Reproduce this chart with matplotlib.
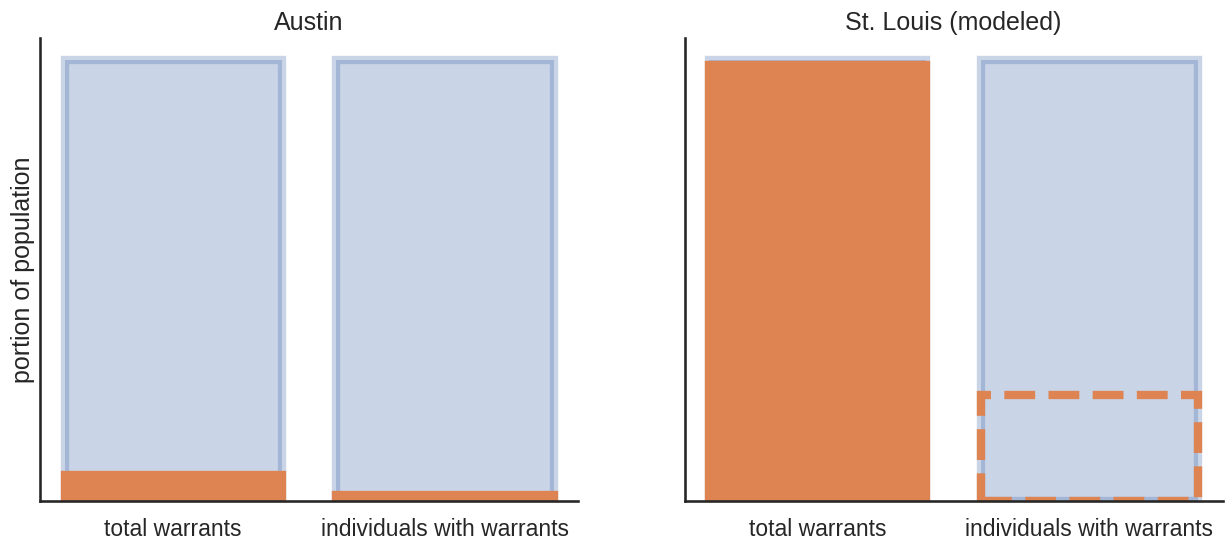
import matplotlib
matplotlib.use('Agg')
import matplotlib.pyplot as plt
import seaborn as sns

# 数据
categories = ['total warrants', 'individuals with warrants']
population = [1.0, 1.0]
austin_warrants = [0.059, 0.013]
stl_total_warrants = [0.988]
stl_individuals_modeled = [0.24]

sns.set_theme(context='talk', style='white')
plt.rcParams['font.family'] = ['Liberation Sans', 'DejaVu Sans']

blue = sns.color_palette('deep')[0]
orange = sns.color_palette('deep')[1]

fig, axes = plt.subplots(1, 2, figsize=(12.25, 5.44), dpi=100)
fig.subplots_adjust(left=0.0327, right=0.998, bottom=0.079, top=0.930, wspace=0.198)

# Austin
ax = axes[0]
ax.bar(categories, population, color=blue, edgecolor=blue, alpha=0.3, linewidth=6)
ax.bar(categories, austin_warrants, color=orange, edgecolor=orange, linewidth=6)
ax.set_title('Austin')
ax.set_ylabel('portion of population')

# St. Louis
ax = axes[1]
ax.bar(categories, population, color=blue, edgecolor=blue, alpha=0.3, linewidth=6)
ax.bar(categories[:1], stl_total_warrants, color=orange, edgecolor=orange, linewidth=6)
ax.bar(categories[1:], stl_individuals_modeled, fill=False, edgecolor=orange,
       linestyle='--', linewidth=6)
ax.set_title('St. Louis (modeled)')

for ax in axes:
    ax.set_yticks([])
    sns.despine(ax=ax)

fig.savefig('out.png')
